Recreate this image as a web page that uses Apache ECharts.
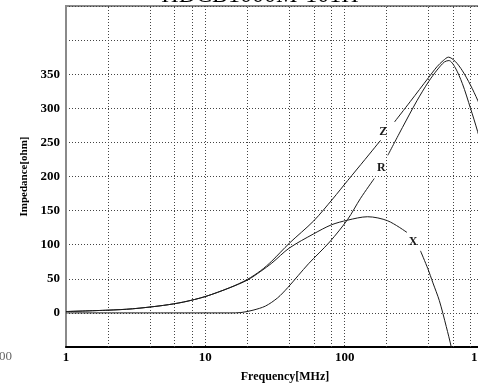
<!DOCTYPE html>
<html>
<head>
<meta charset="utf-8">
<script src="https://cdn.jsdelivr.net/npm/echarts@6/dist/echarts.min.js"></script>
<style>
  html, body { margin: 0; padding: 0; background: #fff; overflow: hidden; }
  #chart { width: 500px; height: 391px; }
</style>
</head>
<body>
<div id="chart"></div>
<script>
// Impedance vs frequency of a chip ferrite bead: |Z|, R and X curves.
const titleText = 'HDCB1000M-101H';

// |Z| (ohm); null leaves a gap for the curve's tag
const zFreq = [1, 2, 3, 5, 7, 10, 15, 20, 25, 30, 40, 60, 82, 105, 140, 181, 200, 228, 296, 400, 460, 510, 556, 620, 700, 800, 900, 1000];
const zVal  = [2, 4, 6, 11, 16, 24, 37, 49, 62, 76, 102, 135, 167, 194, 225, 253, null, 280, 310, 345, 361, 370, 375, 369, 355, 334, 312, 290];

// R (ohm)
const rFreq = [1, 5, 10, 15, 18, 22, 27, 33, 39, 55, 78, 105, 130, 163, 183, 204, 260, 330, 400, 460, 520, 560, 620, 700, 800, 900, 1000];
const rVal  = [0, 0, 0, 0, 0.5, 4, 10, 22, 37, 72, 104, 137, 168, 197, null, 231, 272, 311, 339, 356, 368, 370, 360, 336, 300, 266, 232];

// X (ohm)
const xFreq = [1, 2, 3, 5, 7, 10, 15, 20, 25, 30, 40, 60, 80, 105, 146, 204, 280, 310, 350, 395, 430, 478, 536, 582, 630];
const xVal  = [2, 4, 6, 11, 16, 24, 37, 48, 61, 73, 95, 116, 129, 136, 141, 135, 118, null, 91, 65, 44, 18, -20, -50, -85];

// curve tags: [name, frequency, impedance]
const tags = [['Z', 189, 266], ['R', 183, 212], ['X', 310, 104]];

// extra dotted frequency grid lines between decades
const minorFreqs = [2, 4, 6, 8, 20, 40, 60, 80, 200, 400, 600, 800];

const yTickLabels = [0, 50, 100, 150, 200, 250, 300, 350];

const serif = '"Liberation Serif", "DejaVu Serif", serif';
const gridDots = { color: '#444', type: [1, 2], width: 1 };
const zip = (f, v) => f.map((x, i) => [x, v[i] === null ? '-' : v[i]]);

const lineBase = {
  type: 'line',
  symbol: 'none',
  smooth: 0.3,
  connectNulls: false,
  clip: true,
  lineStyle: { color: '#1a1a1a', width: 1 },
  z: 5
};

function tagPoint(t) {
  return {
    coord: [t[1], t[2]],
    value: t[0],
    symbol: 'circle',
    symbolSize: 1,
    itemStyle: { color: 'transparent' },
    label: {
      show: true, position: 'inside', formatter: t[0],
      fontFamily: serif, fontWeight: 'bold', fontSize: 12, color: '#1a1a1a'
    }
  };
}

const chart = echarts.init(document.getElementById('chart'), null, { renderer: 'canvas' });

chart.setOption({
  animation: false,
  backgroundColor: '#ffffff',
  grid: {
    left: 66, top: 6, width: 422, height: 341,
    show: true, borderColor: '#8a8a8a', borderWidth: 2, backgroundColor: 'transparent'
  },
  graphic: [
    {
      type: 'text', x: 260, y: 8, z: 10,
      style: { text: titleText, font: '24px ' + serif, fill: '#000', align: 'center', verticalAlign: 'bottom' }
    },
    {
      type: 'text', x: 12, y: 357,
      style: { text: '100', font: '13px ' + serif, fill: '#666', align: 'right', verticalAlign: 'middle' }
    }
  ],
  xAxis: {
    type: 'log', logBase: 10, min: 1, max: 1000,
    name: 'Frequency[MHz]', nameLocation: 'middle', nameGap: 24,
    nameTextStyle: { fontFamily: serif, fontWeight: 'bold', fontSize: 12, color: '#000', padding: [0, 0, 0, 20] },
    axisLine: { show: true, onZero: false, lineStyle: { color: '#000', width: 2 } },
    axisTick: { show: false },
    axisLabel: {
      fontFamily: serif, fontWeight: 'bold', fontSize: 13, color: '#000', margin: 4,
      formatter: v => String(v)
    },
    splitLine: { show: true, lineStyle: gridDots }
  },
  yAxis: {
    type: 'value', min: -50, max: 450, interval: 50,
    name: 'Impedance[ohm]', nameLocation: 'middle', nameGap: 35, nameRotate: 90,
    nameTextStyle: { fontFamily: serif, fontWeight: 'bold', fontSize: 11, color: '#000' },
    axisLine: { show: true, lineStyle: { color: '#8a8a8a', width: 2 } },
    axisTick: { show: false },
    axisLabel: {
      fontFamily: serif, fontWeight: 'bold', fontSize: 13, color: '#000', margin: 6,
      formatter: v => (yTickLabels.indexOf(v) >= 0 ? String(v) : '')
    },
    splitLine: { show: true, lineStyle: gridDots }
  },
  series: [
    Object.assign({}, lineBase, {
      name: 'Z', data: zip(zFreq, zVal),
      markPoint: { silent: true, data: [tagPoint(tags[0])] },
      markLine: {
        silent: true, symbol: 'none', label: { show: false },
        lineStyle: gridDots,
        data: minorFreqs.map(f => ({ xAxis: f }))
      }
    }),
    Object.assign({}, lineBase, {
      name: 'R', data: zip(rFreq, rVal),
      markPoint: { silent: true, data: [tagPoint(tags[1])] }
    }),
    Object.assign({}, lineBase, {
      name: 'X', data: zip(xFreq, xVal),
      markPoint: { silent: true, data: [tagPoint(tags[2])] }
    })
  ]
});
</script>
</body>
</html>
